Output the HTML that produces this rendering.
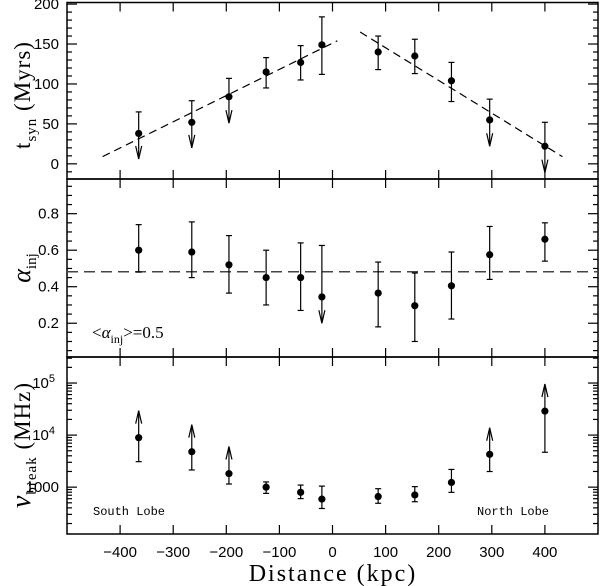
<!DOCTYPE html>
<html><head><meta charset="utf-8"><style>
html,body{margin:0;padding:0;background:#fff;}
svg{display:block;}
text{font-family:"Liberation Sans",sans-serif;}
</style></head><body>
<svg id="c" width="600" height="586" viewBox="0 0 600 586" xmlns="http://www.w3.org/2000/svg">
<g id="g"></g>
<text transform="translate(30,95) rotate(-90)" text-anchor="middle" style="font-family:'Liberation Serif',serif;font-size:23px;letter-spacing:1px">t<tspan dy="6" font-size="15">syn</tspan><tspan dy="-6"> (Myrs)</tspan></text>
<text transform="translate(30,268) rotate(-90)" text-anchor="middle" style="font-family:'Liberation Serif',serif;font-size:26px;font-style:italic">α<tspan dy="6" font-size="15" font-style="normal">inj</tspan></text>
<text transform="translate(30,445) rotate(-90)" text-anchor="middle" style="font-family:'Liberation Serif',serif;font-size:23px;letter-spacing:1px"><tspan font-style="italic" font-size="28">ν</tspan><tspan dy="6" font-size="15">break</tspan><tspan dy="-6"> (MHz)</tspan></text>
<text x="333" y="581" text-anchor="middle" style="font-family:'Liberation Serif',serif;font-size:24px;letter-spacing:2px">Distance (kpc)</text>
<text x="92" y="338" style="font-family:'Liberation Serif',serif;font-size:17px">&lt;<tspan font-style="italic">α</tspan><tspan dy="5" font-size="12">inj</tspan><tspan dy="-5">&gt;=0.5</tspan></text>
<text x="93" y="515" style="font-family:'Liberation Mono',monospace;font-size:12px">South Lobe</text>
<text x="477" y="515" style="font-family:'Liberation Mono',monospace;font-size:12px">North Lobe</text>
</svg>
<script>
// data
const distances = [-365,-265,-195,-125,-60,-20,86,155,224,296,400];
const tsynVal = [38,52,84,115,127,149,140,135,104,55,22];
const tsynHi  = [65,79,107,133,148,184,160,156,127,81,52];
const tsynLo  = [null,null,null,95,105,112,118,113,78,null,null];
const tsynArrow = [6,20,51,null,null,null,null,null,null,22,-11];
const fitLeftX = [-433,9], fitLeftY = [9,154];
const fitRightX = [52,433], fitRightY = [165,9];
const alphaVal = [0.60,0.59,0.52,0.45,0.45,0.344,0.365,0.296,0.405,0.575,0.66];
const alphaHi  = [0.74,0.755,0.68,0.60,0.64,0.626,0.535,0.475,0.59,0.73,0.75];
const alphaLo  = [0.48,0.45,0.365,0.30,0.27,null,0.18,0.10,0.223,0.44,0.54];
const alphaArrow = [null,null,null,null,null,0.20,null,null,null,null,null];
const alphaMean = 0.482;
const nuVal = [3.95,3.68,3.26,3.0,2.90,2.77,2.82,2.85,3.09,3.63,4.46]; // log10 MHz
const nuLo  = [3.49,3.33,3.06,2.88,2.78,2.59,2.69,2.72,2.90,3.30,3.67];
const nuHi  = [null,null,null,3.10,3.04,3.02,2.97,3.01,3.34,null,null];
const nuArrow = [4.47,4.2,3.78,null,null,null,null,null,null,4.14,4.98];
const xTicks = [-400,-300,-200,-100,0,100,200,300,400];
const tTicks = [0,50,100,150,200];
const aTicks = [0.2,0.4,0.6,0.8];
const nuTicks = [3,4,5];
const nuTickLabels = ["1000","10","10"];

const L=67,R=598,X0=-500,X1=500;
const P1={top:2.5,bot:179,min:-19,max:202};
const P2={top:179,bot:357,min:0.015,max:0.99};
const P3={top:357,bot:534,min:2.1,max:5.5};
const sx=v=>L+(v-X0)/(X1-X0)*(R-L);
const sy=(p,v)=>p.bot-(v-p.min)/(p.max-p.min)*(p.bot-p.top);
const g=document.getElementById('g');
const NS='http://www.w3.org/2000/svg';
function mk(tag,attrs,parent){const e=document.createElementNS(NS,tag);for(const k in attrs)e.setAttribute(k,attrs[k]);(parent||g).appendChild(e);return e;}
function line(x1,y1,x2,y2,extra){return mk('line',Object.assign({x1,y1,x2,y2,stroke:'#000','stroke-width':1.2},extra||{}));}

[P1,P2,P3].forEach((p,i)=>{
  const r=mk('rect',{x:L,y:p.top,width:R-L,height:p.bot-p.top,fill:'none',stroke:'#000','stroke-width':1.5});
  
  
  xTicks.forEach(t=>{line(sx(t),p.bot,sx(t),p.bot-9);line(sx(t),p.top,sx(t),p.top+9);});
});
for(let v=-10;v<=200;v+=10){const y=sy(P1,v);const len=v%50===0?10:5;line(L,y,L+len,y);line(R,y,R-len,y);}
tTicks.forEach(t=>{const e=mk('text',{x:L-8,y:sy(P1,t)+5,'text-anchor':'end','font-size':15});e.textContent=t;
 
 });
for(let k=1;k<=19;k++){const v=k*0.05;const y=sy(P2,v);if(y<P2.top+1)continue;const len=(k%4===0)?10:5;line(L,y,L+len,y);line(R,y,R-len,y);}
aTicks.forEach(t=>{const e=mk('text',{x:L-8,y:sy(P2,t)+5,'text-anchor':'end','font-size':15});e.textContent=t.toFixed(1);
 
 });
for(let d=2;d<=5;d++){for(let m=1;m<=9;m++){const lv=d+Math.log10(m);if(lv<P3.min||lv>P3.max)continue;const y=sy(P3,lv);const len=m===1?10:5;line(L,y,L+len,y);line(R,y,R-len,y);}}
nuTicks.forEach((t,i)=>{const e=mk('text',{x:L-8,y:sy(P3,t)+5,'text-anchor':'end','font-size':15});
 e.textContent=nuTickLabels[i];
 if(t!==3){const s=mk('tspan',{dy:-6,'font-size':11},e);s.textContent=String(t);e.setAttribute('x',L-12);}
 
 });
xTicks.forEach(t=>{const e=mk('text',{x:sx(t),y:557,'text-anchor':'middle','font-size':15});e.textContent=(t<0?'\u2212'+(-t):t);
 
 });

function series(p,vals,his,los,arrows,name){
  vals.forEach((v,i)=>{
    const x=sx(distances[i]),y=sy(p,v);
    const grp=mk('g',{});
    
    
    if(his[i]!=null){const yh=sy(p,his[i]);grp.appendChild(line(x,y,x,yh));grp.appendChild(line(x-3,yh,x+3,yh));}
    if(los[i]!=null){const yl=sy(p,los[i]);grp.appendChild(line(x,y,x,yl));grp.appendChild(line(x-3,yl,x+3,yl));}
    if(arrows[i]!=null){const ya=sy(p,arrows[i]);const dir=ya>y?1:-1;grp.appendChild(line(x,y,x,ya));
      mk('path',{d:`M${x-3},${ya-dir*13} L${x},${ya} L${x+3},${ya-dir*13}`,fill:'none',stroke:'#000','stroke-width':1.2},grp);}
    mk('circle',{cx:x,cy:y,r:3.6,fill:'#000'},grp);
  });
}
const f1=mk('line',{x1:sx(fitLeftX[0]),y1:sy(P1,fitLeftY[0]),x2:sx(fitLeftX[1]),y2:sy(P1,fitLeftY[1]),stroke:'#000','stroke-width':1.2,'stroke-dasharray':'8,5'});


const f2=mk('line',{x1:sx(fitRightX[0]),y1:sy(P1,fitRightY[0]),x2:sx(fitRightX[1]),y2:sy(P1,fitRightY[1]),stroke:'#000','stroke-width':1.2,'stroke-dasharray':'8,5'});


const mline=mk('line',{x1:L,y1:sy(P2,alphaMean),x2:R,y2:sy(P2,alphaMean),stroke:'#444','stroke-width':1.6,'stroke-dasharray':'11,6'});



series(P1,tsynVal,tsynHi,tsynLo,tsynArrow,'tsyn');
series(P2,alphaVal,alphaHi,alphaLo,alphaArrow,'alpha');
series(P3,nuVal,nuHi,nuLo,nuArrow,'nu');
</script>
</body></html>
